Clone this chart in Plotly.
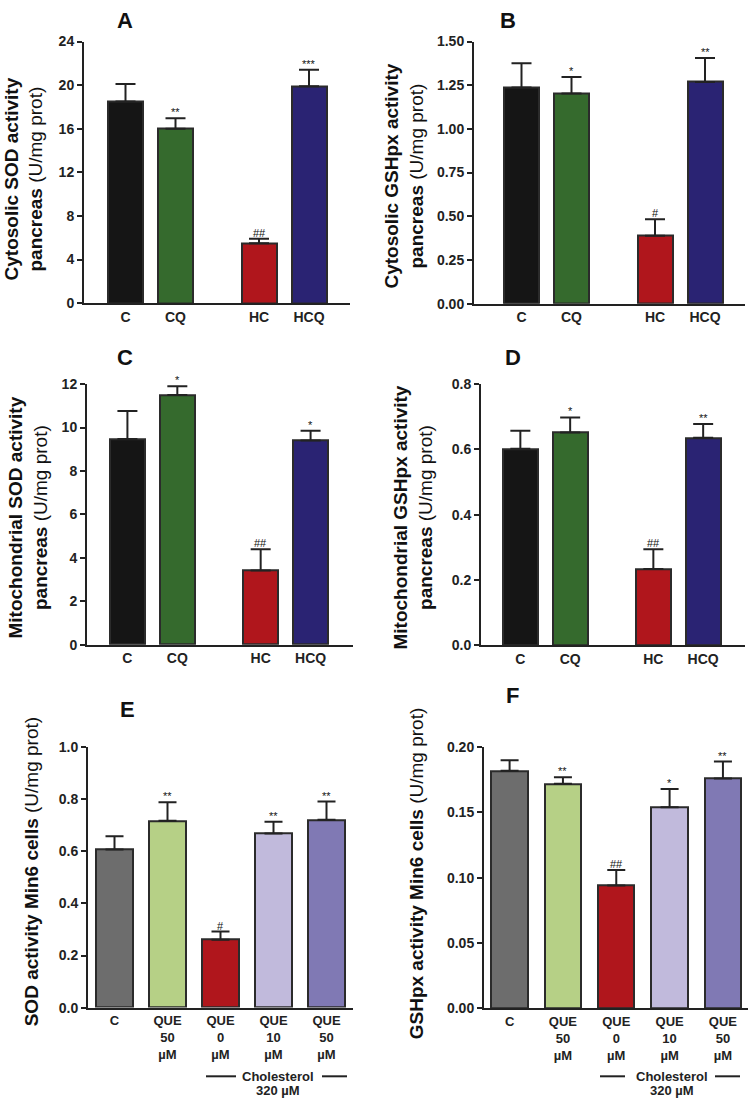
import plotly.graph_objects as go

W, H = 750, 1105
FONT = "Liberation Sans, Arial, Helvetica, sans-serif"
INK = "#222222"

# ---------------- data ----------------
groups_pan = ["C", "CQ", "HC", "HCQ"]
pos_pan = [0, 1, 2.67, 3.67]
colors_pan = ["#151515", "#356a2d", "#b0161c", "#2a2373"]

sod_cyt = [18.5, 16.0, 5.5, 19.9]
sod_cyt_err = [1.6, 0.95, 0.4, 1.5]
sod_cyt_sig = ["", "**", "##", "***"]

gpx_cyt = [1.237, 1.203, 0.389, 1.269]
gpx_cyt_err = [0.139, 0.094, 0.094, 0.137]
gpx_cyt_sig = ["", "*", "#", "**"]

sod_mit = [9.47, 11.5, 3.42, 9.40]
sod_mit_err = [1.29, 0.40, 0.98, 0.45]
sod_mit_sig = ["", "*", "##", "*"]

gpx_mit = [0.602, 0.652, 0.234, 0.636]
gpx_mit_err = [0.055, 0.046, 0.060, 0.042]
gpx_mit_sig = ["", "*", "##", "**"]

groups_cell = ["C", "QUE<br>50<br>µM", "QUE<br>0<br>µM", "QUE<br>10<br>µM", "QUE<br>50<br>µM"]
pos_cell = [0, 1, 2, 3, 4]
colors_cell = ["#6d6d6d", "#b6d086", "#b0161c", "#c1badc", "#8079b4"]

sod_min6 = [0.607, 0.717, 0.261, 0.668, 0.721]
sod_min6_err = [0.051, 0.071, 0.031, 0.046, 0.070]
sod_min6_sig = ["", "**", "#", "**", "**"]

gpx_min6 = [0.182, 0.172, 0.094, 0.154, 0.176]
gpx_min6_err = [0.008, 0.005, 0.012, 0.014, 0.013]
gpx_min6_sig = ["", "**", "##", "*", "**"]

ticks_A = [0, 4, 8, 12, 16, 20, 24]
ticks_B = [0, 0.25, 0.5, 0.75, 1.0, 1.25, 1.5]
ticks_C = [0, 2, 4, 6, 8, 10, 12]
ticks_D = [0, 0.2, 0.4, 0.6, 0.8]
ticks_E = [0, 0.2, 0.4, 0.6, 0.8, 1.0]
ticks_F = [0, 0.05, 0.10, 0.15, 0.20]

# ---------------- layout helpers ----------------
def px(x):
    return x / W

def py(y):
    return 1 - y / H

panels = [
    dict(letter="A", groups=groups_pan, pos=pos_pan, colors=colors_pan, vals=sod_cyt, err=sod_cyt_err,
         sig=sod_cyt_sig, ticks=ticks_A, fmt="{:.0f}", xd=(84, 350), yd=(34, 299.5), xr=(-0.83, 4.49),
         bw=0.7, cap=10, tfs=14,
         title="<b>Cytosolic SOD activity</b><br><b>pancreas</b> (U/mg prot)", tpos=(24, 174),
         lpos=(125, 13)),
    dict(letter="B", groups=groups_pan, pos=pos_pan, colors=colors_pan, vals=gpx_cyt, err=gpx_cyt_err,
         sig=gpx_cyt_sig, ticks=ticks_B, fmt="{:.2f}", xd=(474, 745), yd=(34, 300), xr=(-0.95, 4.47),
         bw=0.7, cap=10, tfs=14,
         title="<b>Cytosolic GSHpx activity</b><br><b>pancreas</b> (U/mg prot)", tpos=(404, 170),
         lpos=(508, 13)),
    dict(letter="C", groups=groups_pan, pos=pos_pan, colors=colors_pan, vals=sod_mit, err=sod_mit_err,
         sig=sod_mit_sig, ticks=ticks_C, fmt="{:.0f}", xd=(87, 353), yd=(381.7, 646), xr=(-0.81, 4.52),
         bw=0.7, cap=10, tfs=14,
         title="<b>Mitochondrial SOD activity</b><br><b>pancreas</b> (U/mg prot)", tpos=(28, 517),
         lpos=(125, 355)),
    dict(letter="D", groups=groups_pan, pos=pos_pan, colors=colors_pan, vals=gpx_mit, err=gpx_mit_err,
         sig=gpx_mit_sig, ticks=ticks_D, fmt="{:.1f}", xd=(481, 745), yd=(381.7, 646.7), xr=(-0.79, 4.51),
         bw=0.7, cap=10, tfs=14,
         title="<b>Mitochondrial GSHpx activity</b><br><b>pancreas</b> (U/mg prot)", tpos=(413, 517),
         lpos=(513, 355)),
    dict(letter="E", groups=groups_cell, pos=pos_cell, colors=colors_cell, vals=sod_min6, err=sod_min6_err,
         sig=sod_min6_sig, ticks=ticks_E, fmt="{:.1f}", xd=(88, 353), yd=(750, 1014.3), xr=(-0.5, 4.5),
         bw=0.68, cap=9, tfs=13,
         title="<b>SOD activity Min6 cells</b> (U/mg prot)", tpos=(31, 877),
         lpos=(127, 712), chol=(206, 236, 278, 322, 347)),
    dict(letter="F", groups=groups_cell, pos=pos_cell, colors=colors_cell, vals=gpx_min6, err=gpx_min6_err,
         sig=gpx_min6_sig, ticks=ticks_F, fmt="{:.2f}", xd=(484, 748), yd=(750, 1015), xr=(-0.48, 4.47),
         bw=0.68, cap=9, tfs=13,
         title="<b>GSHpx activity Min6 cells</b> (U/mg prot)", tpos=(416, 878),
         lpos=(512, 698), chol=(600, 625, 672, 715, 740)),
]

fig = go.Figure()
annotations = []
shapes = []
layout_axes = {}

for i, p in enumerate(panels, start=1):
    xa = "x" if i == 1 else f"x{i}"
    ya = "y" if i == 1 else f"y{i}"
    n = len(p["vals"])
    fig.add_trace(go.Bar(
        x=p["pos"], y=p["vals"], width=p["bw"],
        marker=dict(color=p["colors"], line=dict(color="#2b2b2b", width=2)),
        error_y=dict(type="data", array=p["err"], arrayminus=[0] * n, symmetric=False,
                     color=INK, thickness=2, width=p["cap"]),
        xaxis=xa, yaxis=ya, hoverinfo="skip",
    ))
    layout_axes["xaxis" if i == 1 else f"xaxis{i}"] = dict(
        domain=[px(p["xd"][0]), px(p["xd"][1])], range=list(p["xr"]), anchor=ya,
        tickvals=p["pos"], ticktext=p["groups"], ticks="", showline=True, linewidth=2,
        linecolor=INK, showgrid=False, zeroline=False,
        tickfont=dict(family=FONT, size=p["tfs"], color=INK, weight="bold"),
    )
    layout_axes["yaxis" if i == 1 else f"yaxis{i}"] = dict(
        domain=[py(p["yd"][1]), py(p["yd"][0])], range=[0, p["ticks"][-1]], anchor=xa,
        tickvals=p["ticks"], ticktext=[p["fmt"].format(t) for t in p["ticks"]],
        ticks="outside", ticklen=5, tickwidth=2, tickcolor=INK, showline=True, linewidth=2,
        linecolor=INK, showgrid=False, zeroline=False,
        tickfont=dict(family=FONT, size=14, color=INK, weight="bold"),
    )
    # significance marks
    for xv, v, e, s in zip(p["pos"], p["vals"], p["err"], p["sig"]):
        if s:
            annotations.append(dict(x=xv, y=v + e, xref=xa, yref=ya, text=s, showarrow=False,
                                    yanchor="bottom", yshift=-2,
                                    font=dict(family=FONT, size=11, color="#111")))
    # panel letter
    annotations.append(dict(x=px(p["lpos"][0]), y=py(p["lpos"][1]), xref="paper", yref="paper",
                            text=f"<b>{p['letter']}</b>", showarrow=False, xanchor="center",
                            yanchor="middle", font=dict(family=FONT, size=22, color="#111")))
    # y title
    annotations.append(dict(x=px(p["tpos"][0]), y=py(p["tpos"][1]), xref="paper", yref="paper",
                            text=p["title"], showarrow=False, textangle=-90, xanchor="center",
                            yanchor="middle", align="center",
                            font=dict(family=FONT, size=19, color="#111")))
    # cholesterol bracket
    if "chol" in p:
        l0, l1, tc, r0, r1 = p["chol"]
        yl = 1084
        shapes.append(dict(type="line", xref="paper", yref="paper", x0=px(l0), x1=px(l1),
                           y0=py(yl), y1=py(yl), line=dict(color=INK, width=2)))
        shapes.append(dict(type="line", xref="paper", yref="paper", x0=px(r0), x1=px(r1),
                           y0=py(yl), y1=py(yl), line=dict(color=INK, width=2)))
        annotations.append(dict(x=px(tc), y=py(yl), xref="paper", yref="paper",
                                text="<b>Cholesterol</b>", showarrow=False, xanchor="center",
                                yanchor="middle", font=dict(family=FONT, size=13, color=INK)))
        annotations.append(dict(x=px(tc), y=py(yl + 14), xref="paper", yref="paper",
                                text="<b>320 µM</b>", showarrow=False, xanchor="center",
                                yanchor="middle", font=dict(family=FONT, size=13, color=INK)))

fig.update_layout(
    width=W, height=H, margin=dict(l=0, r=0, t=0, b=0),
    paper_bgcolor="white", plot_bgcolor="white", showlegend=False,
    annotations=annotations, shapes=shapes, bargap=0, **layout_axes,
)

fig.write_html("out.html", config={"displayModeBar": False},
               post_script="document.body.style.margin='0';document.body.style.overflow='hidden';")
